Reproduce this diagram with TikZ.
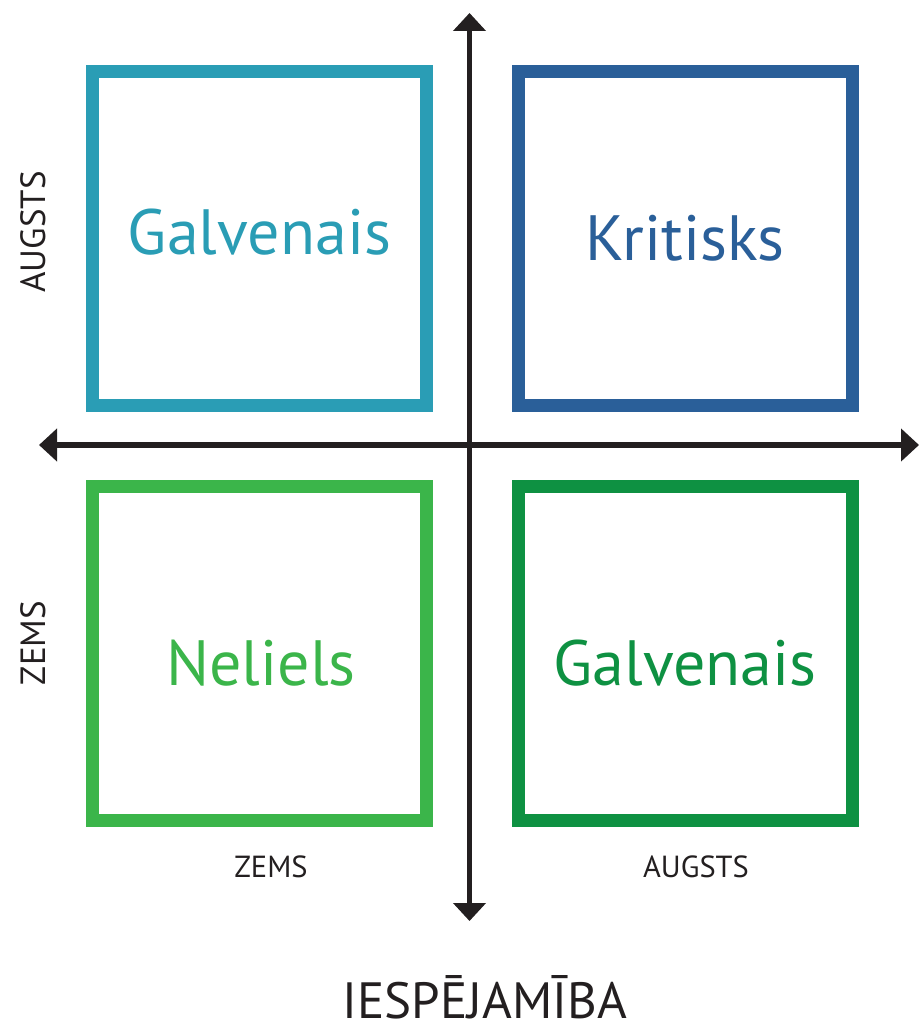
\documentclass[tikz,border=0pt]{standalone}
\usepackage{fontspec}
\setmainfont{PT Sans}
\usetikzlibrary{arrows.meta}
\definecolor{cteal}{HTML}{2A9DB5}
\definecolor{cblue}{HTML}{2A5F99}
\definecolor{cgreen}{HTML}{3BB54A}
\definecolor{cdgreen}{HTML}{0E9142}
\definecolor{caxis}{HTML}{231F20}
\tikzset{
  quad/.style={draw=#1, line width=13pt, minimum width=334pt, minimum height=334pt, inner sep=0pt},
  bigtxt/.style={text=#1, font=\fontsize{64}{64}\selectfont, inner sep=0pt},
  axis/.style={draw=caxis, line width=5.5pt, {Triangle[length=18pt,width=32pt]}-{Triangle[length=18pt,width=32pt]}},
  smalltxt/.style={text=caxis, font=\fontsize{30.5}{30.5}\selectfont, inner sep=0pt},
  sidetxt/.style={text=caxis, font=\fontsize{35}{35}\selectfont, inner sep=0pt, rotate=90}
}
\begin{document}
\begin{tikzpicture}[x=1pt,y=-1pt]
\useasboundingbox (0,0) rectangle (919,1027);
\node[quad=cteal] (tl) at (259.5,238.5) {};
\node[quad=cblue] (tr) at (685,238.5) {};
\node[quad=cgreen] (bl) at (259.5,653.5) {};
\node[quad=cdgreen] (br) at (685,653.5) {};
\node[bigtxt=cteal] (tlt) at (259.5,232) {Galvenais};
\node[bigtxt=cblue] (trt) at (685,238) {Kritisks};
\node[bigtxt=cgreen] (blt) at (261,663) {Neliels};
\node[bigtxt=cdgreen] (brt) at (685,663) {Galvenais};
\coordinate (vt) at (469.5,13);
\coordinate (vb) at (469.5,921);
\coordinate (hl) at (39,445);
\coordinate (hr) at (919,445);
\draw[axis] (vt) -- (vb);
\draw[axis] (hl) -- (hr);
\node[sidetxt] (ya) at (33,232) {AUGSTS};
\node[sidetxt] (yz) at (33,643) {ZEMS};
\node[smalltxt] (xz) at (271,867) {ZEMS};
\node[smalltxt] (xa) at (696,867) {AUGSTS};
\node[text=caxis, font=\fontsize{51}{51}\selectfont, inner sep=0pt, text depth=0pt, anchor=base] (title) at (485,1018) {IESPĒJAMĪBA};
\end{tikzpicture}
\end{document}
